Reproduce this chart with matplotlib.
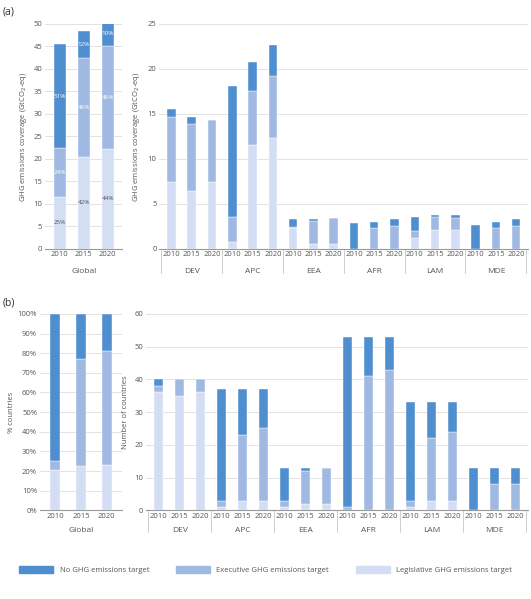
import numpy as np
import matplotlib.pyplot as plt
from matplotlib.patches import Patch

years = ['2010', '2015', '2020']
regions = ['DEV', 'APC', 'EEA', 'AFR', 'LAM', 'MDE']
c_none, c_exec, c_leg = '#4f8fcf', '#a0b9e2', '#d3ddf3'

# (a) Global emissions coverage, GtCO2-eq
glob_leg = [11.5, 20.4, 22.2]
glob_exec = [10.9, 22.1, 23.0]
glob_none = [23.1, 6.0, 5.3]
glob_pct = [['25%', '24%', '51%'], ['42%', '46%', '12%'], ['44%', '46%', '10%']]

# (a) regional emissions coverage (2010, 2015, 2020 per region)
reg_leg = [7.4, 6.4, 7.4, 0.7, 11.5, 12.3, 2.3, 0.5, 0.5, 0, 0, 0, 1.2, 2.1, 2.1, 0, 0, 0]
reg_exec = [7.2, 7.5, 6.9, 2.8, 6.0, 6.9, 0.05, 2.6, 2.9, 0, 2.3, 2.5, 0.8, 1.4, 1.35, 0, 2.3, 2.5]
reg_none = [0.9, 0.8, 0.05, 14.6, 3.3, 3.5, 0.9, 0.2, 0.05, 2.8, 0.7, 0.8, 1.5, 0.25, 0.25, 2.6, 0.65, 0.75]

# (b) share of countries, %
pct_leg = [20.5, 22.5, 23.0]
pct_exec = [4.5, 54.5, 58.0]
pct_none = [75.0, 23.0, 19.0]

# (b) number of countries
cnt_leg = [36, 35, 36, 1, 3, 3, 1, 2, 2, 0, 0, 0, 1, 3, 3, 0, 0, 0]
cnt_exec = [2, 5, 4, 2, 20, 22, 2, 10, 11, 1, 41, 43, 2, 19, 21, 0, 8, 8]
cnt_none = [2, 0, 0, 34, 14, 12, 10, 1, 0, 52, 12, 10, 30, 11, 9, 13, 5, 5]

plt.rcParams['font.family'] = 'Open Sans'
plt.rcParams['font.size'] = 5.5
fig = plt.figure(figsize=(5.31, 5.99), dpi=100)


def style(ax, ymax, step, fmt='{:g}'):
    ax.set_ylim(0, ymax)
    ticks = np.arange(0, ymax + 0.01, step)
    ax.set_yticks(ticks)
    ax.set_yticklabels([fmt.format(t) for t in ticks], color='#555555')
    ax.grid(axis='y', color='#e3e3e3', linewidth=0.7)
    ax.set_axisbelow(True)
    for s in ['top', 'right', 'left']:
        ax.spines[s].set_visible(False)
    ax.spines['bottom'].set_color('#999999')
    ax.tick_params(axis='y', length=0, pad=2)
    ax.tick_params(axis='x', length=0, pad=2, colors='#555555')


def stack(ax, x, leg, ex, none, w):
    leg, ex, none = map(np.array, (leg, ex, none))
    ax.bar(x, leg, w, color=c_leg, edgecolor='white', linewidth=0.3)
    ax.bar(x, ex, w, bottom=leg, color=c_exec, edgecolor='white', linewidth=0.3)
    ax.bar(x, none, w, bottom=leg + ex, color=c_none, edgecolor='white', linewidth=0.3)
    return leg, ex, none


def regional(ax):
    x = np.arange(18)
    ax.set_xlim(-0.6, 17.6)
    ax.set_xticks(x)
    ax.set_xticklabels(years * 6)
    for i, r in enumerate(regions):
        ax.text(3 * i + 1, -0.085, r, transform=ax.get_xaxis_transform(),
                ha='center', va='top', color='#555555', fontsize=6)
    for b in np.arange(-0.5, 18, 3):
        ax.plot([b, b], [0, -0.11], transform=ax.get_xaxis_transform(),
                color='#bbbbbb', linewidth=0.5, clip_on=False)
    return x


def global_x(ax):
    ax.set_xlim(-0.6, 2.6)
    ax.set_xticks(range(3))
    ax.set_xticklabels(years)
    ax.text(1, -0.085, 'Global', transform=ax.get_xaxis_transform(),
            ha='center', va='top', color='#555555', fontsize=6)


# top left
ax1 = fig.add_axes([0.085, 0.585, 0.145, 0.375])
leg, ex, none = stack(ax1, range(3), glob_leg, glob_exec, glob_none, 0.5)
for i in range(3):
    mids = [leg[i] / 2, leg[i] + ex[i] / 2, leg[i] + ex[i] + none[i] / 2]
    for j, m in enumerate(mids):
        ax1.text(i, m, glob_pct[i][j], ha='center', va='center', fontsize=4.5,
                 color='#555555' if j == 0 else 'white')
style(ax1, 50, 5)
global_x(ax1)
ax1.set_ylabel('GHG emissions coverage (GtCO$_2$-eq)', color='#555555', fontsize=5.5, labelpad=3)
fig.text(0.005, 0.975, '(a)', fontsize=7.5, color='#333333')

# top right
ax2 = fig.add_axes([0.3, 0.585, 0.695, 0.375])
x = regional(ax2)
stack(ax2, x, reg_leg, reg_exec, reg_none, 0.42)
style(ax2, 25, 5)
ax2.set_ylabel('GHG emissions coverage (GtCO$_2$-eq)', color='#555555', fontsize=5.5)

# bottom left
ax3 = fig.add_axes([0.075, 0.148, 0.155, 0.328])
stack(ax3, range(3), pct_leg, pct_exec, pct_none, 0.4)
style(ax3, 100, 10, '{:g}%')
global_x(ax3)
ax3.set_ylabel('% countries', color='#555555', fontsize=5.5, labelpad=2)
fig.text(0.005, 0.49, '(b)', fontsize=7.5, color='#333333')

# bottom right
ax4 = fig.add_axes([0.275, 0.148, 0.72, 0.328])
x = regional(ax4)
stack(ax4, x, cnt_leg, cnt_exec, cnt_none, 0.42)
style(ax4, 60, 10)
ax4.set_ylabel('Number of countries', color='#555555', fontsize=5.5)

handles = [Patch(color=c_none), Patch(color=c_exec), Patch(color=c_leg)]
labels = ['No GHG emissions target', 'Executive GHG emissions target', 'Legislative GHG emissions target']
fig.legend(handles, labels, loc='lower center', bbox_to_anchor=(0.5, 0.03), ncol=3,
           frameon=False, fontsize=5.5, handlelength=4.5, handleheight=1.2,
           columnspacing=3.5, labelcolor='#555555')

fig.savefig('out.png', dpi=100)
